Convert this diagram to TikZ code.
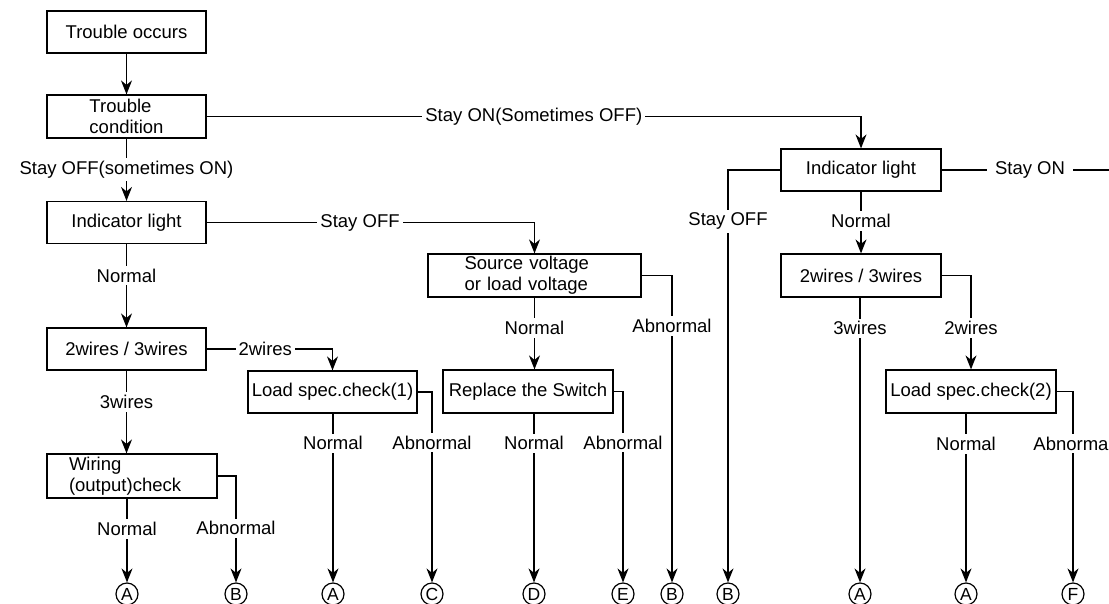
\documentclass[tikz,border=0pt]{standalone}
\usepackage{fontspec}
\setmainfont{Liberation Sans}
\usetikzlibrary{arrows.meta}

\begin{document}
\begin{tikzpicture}[
        x=1pt,
        y=-1pt,
        font=\fontsize{18.5}{21}\selectfont,
        line width=1.2pt,
        box/.style={draw,inner sep=0pt,align=center,minimum height=42pt},
        lbl/.style={fill=white,inner sep=3pt},
        endpt/.style={draw,circle,inner sep=0pt,minimum size=22pt,font=\fontsize{17.5}{17.5}\selectfont},
        arr/.style={-{Stealth[length=14pt,width=11pt,inset=4.5pt]}}]

%Rahmen
\useasboundingbox (0,0) rectangle (1109,603);
\clip (0,0) rectangle (1109,603);

%Kaesten links
\node[box,minimum width=159pt] (occurs) at (126.5,32) {Trouble occurs};
\node[box,minimum width=159pt,minimum height=43pt,align=left] (cond) at (126.5,116.5) {Trouble\\condition};
\node[box,minimum width=159pt] (ind1) at (126.5,222.5) {Indicator light};
\node[box,minimum width=159pt] (wires1) at (126.5,349) {2wires / 3wires};
\node[box,align=left,text width=126pt,inner xsep=22pt,minimum height=44pt] (wiring) at (132,476) {Wiring\\(output)check};
%Kaesten Mitte
\node[box,minimum width=169pt] (load1) at (332.5,392) {Load spec.check(1)};
\node[box,align=left,text width=140pt,inner xsep=36.5pt,minimum height=43pt] (src) at (534.5,275.5) {Source voltage\\or load voltage};
\node[box,minimum width=170pt,minimum height=43pt] (repl) at (528,391.5) {Replace the Switch};
%Kaesten rechts
\node[box,minimum width=160pt] (ind2) at (861,170) {Indicator light};
\node[box,minimum width=160pt,minimum height=43pt] (wires2) at (861,275.5) {2wires / 3wires};
\node[box,minimum width=170pt,minimum height=43pt] (load2) at (971,391.5) {Load spec.check(2)};

%Endpunkte
\node[endpt] (eA1) at (127,594) {A};
\node[endpt] (eB1) at (236,594) {B};
\node[endpt] (eA2) at (333,594) {A};
\node[endpt] (eC) at (432,594) {C};
\node[endpt] (eD) at (534,594) {D};
\node[endpt] (eE) at (623,594) {E};
\node[endpt] (eB2) at (672,594) {B};
\node[endpt] (eB3) at (728,594) {B};
\node[endpt] (eA3) at (860,594) {A};
\node[endpt] (eA4) at (966,594) {A};
\node[endpt] (eF) at (1073,594) {F};
\coordinate (onend) at (1115,170);

%Verbindungen links
\draw[arr] (occurs) -- (cond);
\draw[arr] (cond.east) -| node[lbl,pos=0.25] {Stay ON(Sometimes OFF)} (ind2.north);
\draw[arr] (cond) -- node[lbl,pos=0.5] {Stay OFF(sometimes ON)} (ind1);
\draw[arr] (ind1.east) -| node[lbl,pos=0.234] {Stay OFF} (src.north);
\draw[arr] (ind1) -- node[lbl,pos=0.376] {Normal} (wires1);
\draw[arr] (wires1.east) -| node[lbl,pos=0.233] {2wires} (load1.north);
\draw[arr] (wires1.south) -- node[lbl,pos=0.38] {3wires} (wires1.south |- wiring.north);
\draw[arr] (eA1 |- wiring.south) -- node[lbl,pos=0.36] {Normal} (eA1);
\draw[arr] (wiring.east) -| node[lbl,pos=0.746] {Abnormal} (eB1);
%Verbindungen Mitte
\draw[arr] (eA2 |- load1.south) -- node[lbl,pos=0.176] {Normal} (eA2);
\draw[arr] (load1.east) -| node[lbl,pos=0.633] {Abnormal} (eC);
\draw[arr] (src.south) -- node[lbl,pos=0.42] {Normal} (src.south |- repl.north);
\draw[arr] (src.east) -| node[lbl,pos=0.582] {Abnormal} (eB2);
\draw[arr] (eD |- repl.south) -- node[lbl,pos=0.176] {Normal} (eD);
\draw[arr] (repl.east) -| node[lbl,pos=0.634] {Abnormal} (eE);
%Verbindungen rechts
\draw[arr] (ind2.west) -| node[lbl,pos=0.562] {Stay OFF} (eB3);
\draw[arr] (ind2) -- node[lbl,pos=0.476] {Normal} (wires2);
\draw (ind2.east) -- node[lbl,pos=0.51,inner xsep=8pt] {Stay ON} (onend);
\draw[arr] (eA3 |- wires2.south) -- node[lbl,pos=0.108] {3wires} (eA3);
\draw[arr] (wires2.east) -| node[lbl,pos=0.778] {2wires} (load2.north);
\draw[arr] (eA4 |- load2.south) -- node[lbl,pos=0.18] {Normal} (eA4);
\draw[arr] (load2.east) -| node[lbl,pos=0.636] {Abnormal} (eF);

\end{tikzpicture}
\end{document}
